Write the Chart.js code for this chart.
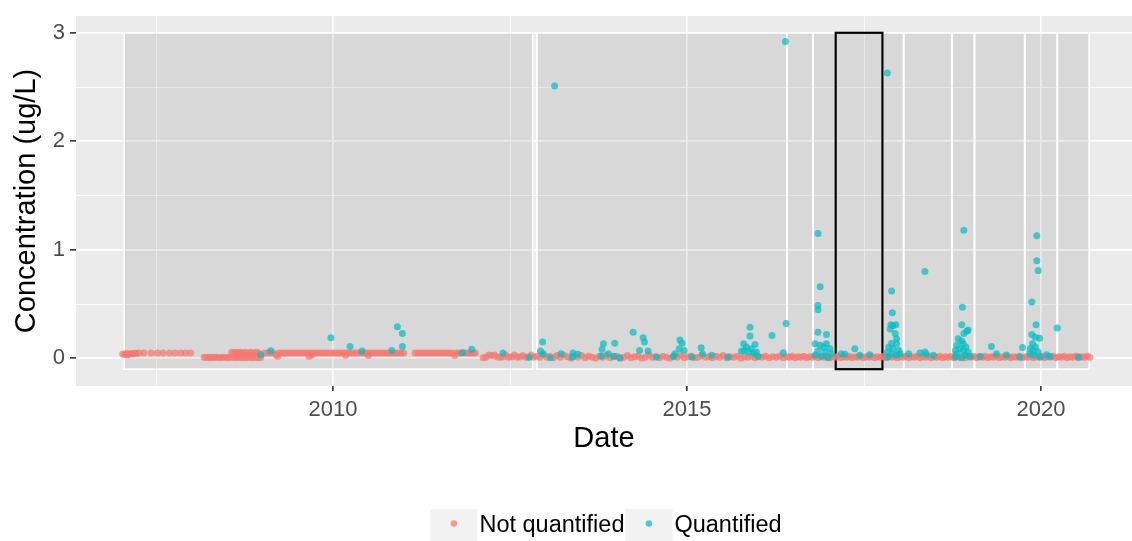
<!DOCTYPE html>
<html>
<head>
<meta charset="utf-8">
<script src="https://cdn.jsdelivr.net/npm/chart.js@4.4.1/dist/chart.umd.min.js"></script>
<style>
  html, body { margin: 0; padding: 0; background: #ffffff; }
  canvas { display: block; }
</style>
</head>
<body>
<canvas id="chart0" width="1132" height="541"></canvas>
<script>
// series names, colours
var seriesNames = ['Not quantified', 'Quantified'];
var seriesColors = ['rgba(248, 118, 109, 0.7)', 'rgba(0, 191, 196, 0.7)'];

// axis ticks (decimal years / ug/L)
var xGridYears = [2007.5, 2010, 2012.5, 2015, 2017.5, 2020];
var xMajorYears = [2010, 2015, 2020];
var yGridValues = [0, 0.5, 1, 1.5, 2, 2.5, 3];
var yMajorValues = [0, 1, 2, 3];

// sampling periods (shaded boxes), the 5th one is outlined in black
var periodStarts = [2007.05, 2012.88, 2016.41, 2016.78, 2017.10, 2017.76, 2018.06, 2018.74, 2019.06, 2019.77, 2020.23];
var periodEnds   = [2012.82, 2016.41, 2016.78, 2017.10, 2017.76, 2018.06, 2018.74, 2019.06, 2019.77, 2020.23, 2020.68];
var highlightPeriod = 4;
var periodLow = -0.1, periodHigh = 3;

// [decimal year, concentration]
var notQuantified = [
  [2007.03,0.04],[2007.06,0.035],[2007.08,0.045],[2007.10,0.03],[2007.12,0.04],[2007.15,0.045],[2007.17,0.04],[2007.20,0.05],[2007.22,0.045],[2007.26,0.05],
  [2007.33,0.05],[2007.43,0.05],[2007.52,0.05],[2007.60,0.05],[2007.69,0.05],[2007.77,0.05],[2007.85,0.05],[2007.92,0.05],[2007.99,0.05],
  [2008.18,0.01],[2008.21,0.008],[2008.24,0.01],[2008.27,0.006],[2008.30,0.01],[2008.33,0.008],[2008.36,0.01],[2008.40,0.006],[2008.43,0.01],[2008.46,0.008],[2008.50,0.01],[2008.53,0.006],
  [2008.57,0.055],[2008.60,0.05],[2008.63,0.055],[2008.66,0.05],[2008.69,0.055],[2008.72,0.05],[2008.76,0.055],[2008.80,0.05],[2008.84,0.055],[2008.88,0.05],[2008.92,0.055],[2008.95,0.05],
  [2008.58,0.008],[2008.62,0.005],[2008.66,0.01],[2008.70,0.005],[2008.74,0.008],[2008.78,0.005],[2008.82,0.01],[2008.86,0.005],[2008.90,0.008],[2008.94,0.005],[2008.98,0.008],
  [2008.64,0.03],[2008.77,0.03],[2008.86,0.03],
  [2009.04,0.05],[2009.08,0.05],[2009.12,0.05],[2009.16,0.05],[2009.20,0.03],[2009.22,0.02],[2009.24,0.05],[2009.28,0.05],[2009.32,0.05],[2009.36,0.05],[2009.40,0.05],
  [2009.44,0.05],[2009.48,0.05],[2009.52,0.05],[2009.56,0.05],[2009.60,0.05],[2009.64,0.05],[2009.66,0.02],[2009.68,0.05],[2009.70,0.03],[2009.72,0.05],[2009.76,0.05],
  [2009.80,0.05],[2009.84,0.05],[2009.88,0.05],[2009.92,0.05],[2009.96,0.05],[2010.00,0.05],
  [2010.04,0.05],[2010.08,0.05],[2010.12,0.05],[2010.16,0.05],[2010.18,0.028],[2010.20,0.05],[2010.24,0.05],[2010.28,0.05],[2010.32,0.05],[2010.36,0.05],[2010.40,0.05],
  [2010.44,0.05],[2010.48,0.05],[2010.50,0.025],[2010.52,0.05],[2010.56,0.05],[2010.60,0.05],[2010.64,0.05],[2010.68,0.05],[2010.72,0.05],[2010.76,0.05],[2010.80,0.05],
  [2010.84,0.05],[2010.88,0.05],[2010.92,0.05],[2010.96,0.05],[2011.00,0.05],
  [2011.16,0.05],[2011.20,0.05],[2011.24,0.05],[2011.28,0.05],[2011.32,0.05],[2011.36,0.05],[2011.40,0.05],[2011.44,0.05],[2011.48,0.05],[2011.52,0.05],[2011.56,0.05],
  [2011.60,0.05],[2011.64,0.05],[2011.68,0.05],[2011.72,0.025],[2011.74,0.05],[2011.78,0.05],[2011.82,0.05],[2011.86,0.05],[2011.90,0.05],[2011.94,0.05],[2011.98,0.05],[2012.01,0.05],
  [2012.12,0.006],[2012.16,0.01],[2012.20,0.03],[2012.24,0.025],[2012.28,0.03],[2012.32,0.012],[2012.36,0.01],[2012.40,0.012],[2012.44,0.03],[2012.48,0.01],
  [2012.52,0.012],[2012.56,0.03],[2012.60,0.01],[2012.64,0.012],[2012.68,0.025],[2012.72,0.01],[2012.76,0.012],[2012.80,0.03],[2012.83,0.01],
  [2012.88,0.02],[2012.92,0.01],[2012.97,0.03],[2013.02,0.01],[2013.06,0.02],[2013.11,0.005],[2013.16,0.025],[2013.21,0.01],[2013.26,0.03],[2013.31,0.015],[2013.36,0.0],
  [2013.41,0.02],[2013.46,0.01],[2013.51,0.025],[2013.56,0.005],[2013.61,0.02],[2013.66,0.01],[2013.71,0.0],[2013.76,0.02],[2013.81,0.01],[2013.86,0.025],[2013.91,0.005],[2013.96,0.015],
  [2014.01,0.02],[2014.06,0.0],[2014.11,0.01],[2014.16,0.025],[2014.21,0.005],[2014.26,0.015],[2014.31,0.02],[2014.36,0.0],[2014.41,0.01],[2014.46,0.03],[2014.51,0.01],
  [2014.56,0.015],[2014.61,0.005],[2014.66,0.02],[2014.71,0.01],[2014.76,0.0],[2014.81,0.02],[2014.86,0.01],[2014.91,0.025],[2014.96,0.005],
  [2015.01,0.015],[2015.06,0.02],[2015.11,0.005],[2015.16,0.01],[2015.21,0.025],[2015.26,0.01],[2015.31,0.015],[2015.36,0.005],[2015.41,0.02],[2015.46,0.01],
  [2015.51,0.025],[2015.56,0.005],[2015.61,0.015],[2015.66,0.01],[2015.71,0.02],[2015.76,0.0],[2015.81,0.015],[2015.86,0.01],[2015.91,0.02],[2015.96,0.005],
  [2016.01,0.015],[2016.06,0.01],[2016.11,0.02],[2016.16,0.005],[2016.21,0.015],[2016.26,0.01],[2016.31,0.02],[2016.36,0.005],[2016.41,0.015],[2016.45,0.01],[2016.49,0.02],
  [2016.53,0.005],[2016.57,0.015],[2016.61,0.01],[2016.65,0.02],[2016.69,0.005],[2016.73,0.015],[2016.77,0.01],[2016.81,0.02],[2016.85,0.005],[2016.89,0.015],[2016.93,0.01],[2016.97,0.02],
  [2017.01,0.005],[2017.05,0.015],[2017.09,0.01],[2017.13,0.02],[2017.17,0.005],[2017.21,0.015],[2017.25,0.01],[2017.29,0.02],[2017.33,0.005],[2017.37,0.015],[2017.41,0.01],[2017.45,0.02],
  [2017.49,0.005],[2017.53,0.015],[2017.57,0.01],[2017.61,0.02],[2017.65,0.005],[2017.69,0.015],[2017.73,0.01],[2017.77,0.02],[2017.81,0.005],[2017.85,0.015],[2017.89,0.01],[2017.93,0.02],[2017.97,0.005],
  [2018.01,0.015],[2018.05,0.01],[2018.09,0.02],[2018.13,0.005],[2018.17,0.015],[2018.21,0.01],[2018.25,0.02],[2018.29,0.005],[2018.33,0.015],[2018.37,0.01],[2018.41,0.02],[2018.45,0.005],
  [2018.49,0.015],[2018.53,0.01],[2018.57,0.02],[2018.61,0.005],[2018.65,0.015],[2018.69,0.01],[2018.73,0.02],[2018.77,0.005],[2018.81,0.015],[2018.85,0.01],[2018.89,0.02],[2018.93,0.005],[2018.97,0.015],
  [2019.01,0.01],[2019.05,0.02],[2019.09,0.005],[2019.13,0.015],[2019.17,0.01],[2019.21,0.02],[2019.25,0.005],[2019.29,0.015],[2019.33,0.01],[2019.37,0.02],[2019.41,0.005],[2019.45,0.015],
  [2019.49,0.01],[2019.53,0.02],[2019.57,0.005],[2019.61,0.015],[2019.65,0.01],[2019.69,0.02],[2019.73,0.005],[2019.77,0.015],[2019.81,0.01],[2019.85,0.02],[2019.89,0.005],[2019.93,0.015],[2019.97,0.01],
  [2020.01,0.02],[2020.05,0.005],[2020.09,0.015],[2020.13,0.01],[2020.17,0.02],[2020.21,0.005],[2020.25,0.015],[2020.29,0.01],[2020.33,0.02],[2020.37,0.005],[2020.41,0.015],
  [2020.45,0.01],[2020.49,0.02],[2020.53,0.005],[2020.57,0.015],[2020.61,0.01],[2020.65,0.02],[2020.69,0.01]
];

var quantified = [
  [2008.98,0.034],[2009.12,0.07],[2009.97,0.19],[2010.24,0.11],[2010.41,0.067],[2010.83,0.073],[2010.91,0.29],[2010.98,0.23],[2010.98,0.11],
  [2011.83,0.052],[2011.96,0.083],[2012.40,0.049],[2012.77,0.01],[2012.93,0.067],[2012.96,0.15],[2012.97,0.043],[2013.07,0.006],[2013.13,2.51],
  [2013.22,0.043],[2013.38,0.012],[2013.39,0.049],[2013.46,0.037],
  [2013.79,0.021],[2013.80,0.083],[2013.82,0.135],[2013.89,0.043],[2013.97,0.02],[2013.98,0.14],[2014.05,0.006],[2014.24,0.24],[2014.33,0.073],
  [2014.38,0.19],[2014.40,0.15],[2014.45,0.067],[2014.57,0.012],[2014.81,0.018],[2014.83,0.043],[2014.89,0.089],[2014.90,0.17],[2014.93,0.14],
  [2014.96,0.073],[2015.07,0.012],[2015.20,0.098],[2015.22,0.043],[2015.35,0.028],[2015.58,0.012],
  [2015.77,0.067],[2015.80,0.135],[2015.81,0.073],[2015.84,0.104],[2015.87,0.058],[2015.89,0.287],[2015.89,0.205],[2015.91,0.089],[2015.94,0.049],
  [2015.96,0.128],[2015.98,0.058],[2016.00,0.02],[2016.20,0.21],[2016.36,0.052],[2016.39,2.92],[2016.40,0.32],
  [2016.81,0.135],[2016.81,0.03],[2016.85,1.15],[2016.88,0.66],[2016.85,0.486],[2016.85,0.447],[2016.85,0.24],[2016.85,0.067],[2016.88,0.12],
  [2016.90,0.02],[2016.93,0.104],[2016.95,0.058],[2016.97,0.22],[2016.97,0.135],[2016.99,0.006],[2017.02,0.089],[2017.04,0.043],
  [2017.18,0.043],[2017.23,0.037],[2017.37,0.089],[2017.44,0.028],[2017.58,0.034],
  [2017.83,2.63],[2017.83,0.058],[2017.83,0.012],[2017.85,0.104],[2017.87,0.27],[2017.89,0.62],[2017.88,0.31],[2017.89,0.14],[2017.89,0.043],
  [2017.90,0.42],[2017.91,0.30],[2017.91,0.089],[2017.94,0.23],[2017.95,0.31],[2017.96,0.18],[2017.96,0.135],[2017.96,0.03],[2017.99,0.073],[2018.01,0.043],
  [2018.13,0.043],[2018.29,0.049],[2018.36,0.8],[2018.36,0.058],[2018.38,0.037],[2018.48,0.028],
  [2018.79,0.073],[2018.79,0.012],[2018.81,0.12],[2018.81,0.043],[2018.83,0.18],[2018.85,0.089],[2018.88,0.31],[2018.88,0.16],[2018.88,0.006],
  [2018.89,0.47],[2018.91,1.18],[2018.90,0.135],[2018.90,0.073],[2018.91,0.23],[2018.93,0.03],[2018.94,0.104],[2018.95,0.25],[2018.97,0.26],
  [2018.97,0.058],[2019.00,0.018],
  [2019.14,0.018],[2019.30,0.11],[2019.37,0.043],[2019.51,0.03],[2019.70,0.012],[2019.74,0.10],
  [2019.84,0.043],[2019.85,0.089],[2019.87,0.52],[2019.87,0.22],[2019.88,0.135],[2019.89,0.073],[2019.90,0.03],[2019.92,0.195],[2019.92,0.104],
  [2019.93,0.31],[2019.94,1.13],[2019.94,0.90],[2019.96,0.058],[2019.96,0.81],[2019.98,0.186],[2019.99,0.012],[2020.08,0.034],[2020.13,0.018],
  [2020.23,0.28],[2020.53,0.012]
];

var fontFamily = "'Liberation Sans', Arial, sans-serif";
var ctx = document.getElementById('chart0').getContext('2d');

function toPoints(list) {
    return list.map(function(p) { return {x: p[0], y: p[1]}; });
}

// grey panel, period boxes and the legend, ggplot style
var panelPlugin = {
    id: 'panel',
    beforeDraw: function(chart) {
        var a = chart.chartArea, c = chart.ctx;
        c.save();
        c.fillStyle = '#EBEBEB';
        c.fillRect(a.left, a.top, a.right - a.left, a.bottom - a.top);
        c.restore();
    },
    beforeDatasetsDraw: function(chart) {
        var xs = chart.scales.x, ys = chart.scales.y, c = chart.ctx;
        var top = ys.getPixelForValue(periodHigh), bottom = ys.getPixelForValue(periodLow);
        c.save();
        c.fillStyle = 'rgba(0, 0, 0, 0.078)';
        for (var i = 0; i < periodStarts.length; i++) {
            var l = xs.getPixelForValue(periodStarts[i]), r = xs.getPixelForValue(periodEnds[i]);
            c.fillRect(l, top, r - l, bottom - top);
        }
        c.strokeStyle = '#FFFFFF';
        c.lineWidth = 1.7;
        for (var j = 0; j < periodStarts.length; j++) {
            var l2 = xs.getPixelForValue(periodStarts[j]), r2 = xs.getPixelForValue(periodEnds[j]);
            c.strokeRect(l2, top, r2 - l2, bottom - top);
        }
        var lh = xs.getPixelForValue(periodStarts[highlightPeriod]), rh = xs.getPixelForValue(periodEnds[highlightPeriod]);
        c.strokeStyle = '#000000';
        c.lineWidth = 2.2;
        c.strokeRect(lh, top, rh - lh, bottom - top);
        c.restore();
    },
    afterDraw: function(chart) {
        var a = chart.chartArea, c = chart.ctx;
        var keyW = 47, keyTop = 509, keyH = 32, dotY = 523.5, gap = 2;
        c.save();
        c.font = '23.5px ' + fontFamily;
        var widths = seriesNames.map(function(n) { return c.measureText(n).width; });
        var total = 0;
        widths.forEach(function(w) { total += keyW + gap + w; });
        total += 1;
        // the original panel ran a few pixels past the picture, so its centre sits a bit right
        var x = (a.left + a.right) / 2 + 2 - total / 2;
        for (var i = 0; i < seriesNames.length; i++) {
            c.fillStyle = '#F2F2F2';
            c.fillRect(x, keyTop, keyW, keyH);
            c.fillStyle = seriesColors[i];
            c.beginPath();
            c.arc(x + keyW / 2, dotY, 3.3, 0, Math.PI * 2);
            c.fill();
            c.fillStyle = '#000000';
            c.textBaseline = 'alphabetic';
            c.textAlign = 'left';
            c.fillText(seriesNames[i], x + keyW + gap, 531.5);
            x += keyW + gap + widths[i] + 1;
        }
        c.restore();
    }
};

function gridStyle(majors) {
    return {
        color: '#FFFFFF',
        lineWidth: function(c) { return c.tick && majors.indexOf(c.tick.value) >= 0 ? 1.7 : 0.8; },
        tickColor: function(c) { return c.tick && majors.indexOf(c.tick.value) >= 0 ? '#333333' : 'rgba(0,0,0,0)'; },
        tickWidth: 1.6,
        drawTicks: true
    };
}

var chart = new Chart(ctx, {
    type: 'scatter',
    data: {
        datasets: [{
            label: seriesNames[0],
            data: toPoints(notQuantified),
            backgroundColor: seriesColors[0],
            borderWidth: 0,
            pointRadius: 3.5,
            order: 1
        }, {
            label: seriesNames[1],
            data: toPoints(quantified),
            backgroundColor: seriesColors[1],
            borderWidth: 0,
            pointRadius: 3.5,
            order: 0
        }]
    },
    options: {
        responsive: false,
        animation: false,
        events: [],
        layout: { autoPadding: false, padding: { top: 14, right: 0, left: 0, bottom: 85 } },
        plugins: { legend: { display: false }, tooltip: { enabled: false } },
        scales: {
            x: {
                type: 'linear',
                min: 2006.37,
                max: 2021.285,
                afterBuildTicks: function(ax) { ax.ticks = xGridYears.map(function(v) { return {value: v}; }); },
                afterFit: function(s) { s.height = 70; },
                border: { display: false },
                grid: Object.assign(gridStyle(xMajorYears), { tickLength: 5 }),
                ticks: {
                    autoSkip: false, maxRotation: 0, padding: 6, color: '#4D4D4D',
                    font: { family: fontFamily, size: 22 },
                    callback: function(v) { return xMajorYears.indexOf(v) >= 0 ? String(v) : ''; }
                },
                title: {
                    display: true, text: 'Date', color: '#000000',
                    font: { family: fontFamily, size: 29 },
                    padding: { top: 0, bottom: 0 }
                }
            },
            y: {
                type: 'linear',
                min: -0.255,
                max: 3.155,
                afterBuildTicks: function(ax) { ax.ticks = yGridValues.map(function(v) { return {value: v}; }); },
                afterFit: function(s) { s.width = 76; },
                border: { display: false },
                grid: Object.assign(gridStyle(yMajorValues), { tickLength: 6 }),
                ticks: {
                    padding: 5, color: '#4D4D4D',
                    font: { family: fontFamily, size: 22, lineHeight: 1 },
                    callback: function(v) { return yMajorValues.indexOf(v) >= 0 ? String(v) : ''; }
                },
                title: {
                    display: true, text: 'Concentration (ug/L)', color: '#000000',
                    font: { family: fontFamily, size: 29 },
                    padding: { top: 10, bottom: 0 }
                }
            }
        }
    },
    plugins: [panelPlugin]
});
</script>
</body>
</html>
